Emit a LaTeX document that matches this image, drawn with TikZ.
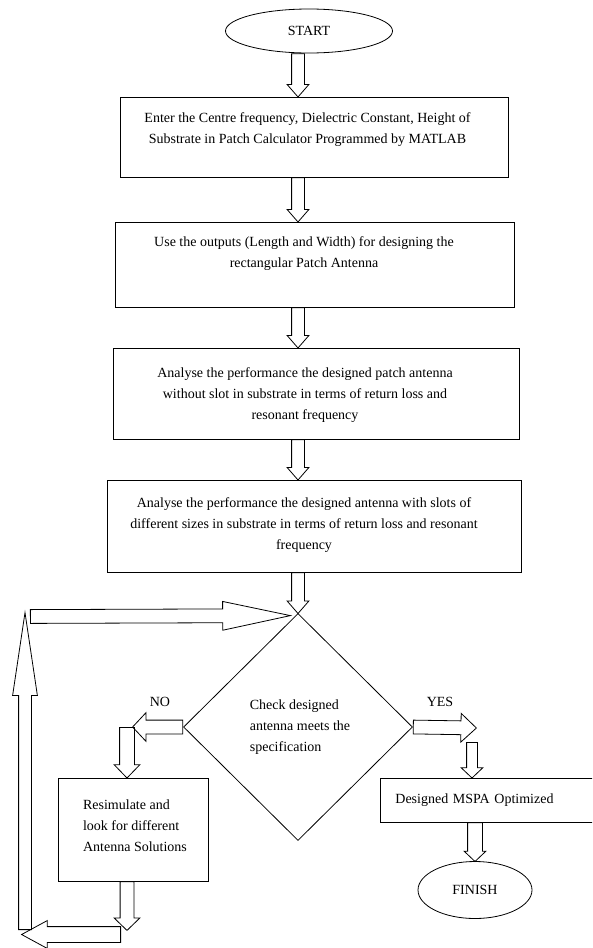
\documentclass[tikz,border=0pt]{standalone}
\usepackage{fontspec}
\setmainfont{Liberation Serif}
\usetikzlibrary{shapes.geometric,shapes.arrows,calc}

\newcommand\hollowarrow[3][]{%
  \path let \p1=(#2), \p2=(#3), \n1={veclen(\x2-\x1,\y2-\y1)}, \n2={atan2(\y2-\y1,\x2-\x1)} in
    node[hollow, minimum height=\n1, rotate=\n2, #1] at (#2) {};}

\begin{document}
\begin{tikzpicture}[x=1pt, y=-1pt, line width=0.8pt,
  font=\fontsize{14pt}{21pt}\selectfont,
  terminal/.style={draw, ellipse, inner sep=0pt},
  stepbox/.style={draw, rectangle, inner sep=0pt},
  decision/.style={draw, diamond, inner sep=0pt},
  boxtext/.style={align=center},
  hollow/.style={single arrow, draw, inner xsep=0pt, inner ysep=6pt, anchor=tail,
    single arrow head extend=4.5pt, single arrow tip angle=82}]
\clip (0,0) rectangle (592,948);
\coordinate (axis) at (298,0);

\node[terminal, minimum width=167, minimum height=44] (start) at (309,31) {START};
\node[stepbox, minimum width=388, minimum height=80,
  label={[boxtext, xshift=-6.5pt, yshift=7pt]center:{Enter the Centre frequency, Dielectric Constant, Height of\\Substrate in Patch Calculator Programmed by MATLAB}}] (enter) at (314,137) {};
\node[stepbox, minimum width=399, minimum height=85,
  label={[boxtext, xshift=-10.5pt, yshift=10.5pt]center:{Use the outputs (Length and Width) for designing the\\rectangular Patch Antenna}}] (use) at (314.5,264.5) {};
\node[stepbox, minimum width=406, minimum height=91,
  label={[boxtext, xshift=-11pt, yshift=-1.5pt]center:{Analyse the performance the designed patch antenna\\without slot in substrate in terms of return loss and\\resonant frequency}}] (analyse) at (316,393.5) {};
\node[stepbox, minimum width=414, minimum height=92,
  label={[boxtext, xshift=-10pt, yshift=1pt]center:{Analyse the performance the designed antenna with slots of\\different sizes in substrate in terms of return loss and resonant\\frequency}}] (slots) at (314,526) {};
\node[decision, minimum width=229, minimum height=227,
  label={[align=left, xshift=2pt]center:{Check designed\\antenna meets the\\specification}}] (check) at (298,727) {};
\node (no) at (160,702) {NO};
\node (yes) at (440,702) {YES};
\node[stepbox, minimum width=150, minimum height=103,
  label={[align=left, xshift=2pt, yshift=3.5pt]center:{Resimulate and\\look for different\\Antenna Solutions}}] (resim) at (133,829.5) {};
\node[stepbox, anchor=west, minimum height=44, text width=215, inner xsep=15pt, align=left] (mspa) at (380,800) {Designed MSPA Optimized};
\node[terminal, minimum width=114, minimum height=57] (finish) at (475,890) {FINISH};

\coordinate (notip) at (133,727);
\coordinate (nodown) at (127,727);
\coordinate (loopturn) at (127,930);
\coordinate (loopbot) at (121,934.5);
\coordinate (loopleft) at (22,934.5);
\coordinate (loopup) at (25,930);
\coordinate (looptip) at (25,613);
\coordinate (looptop) at (30,616.5);
\coordinate (yestip) at (476,728);
\coordinate (yesdown) at (472,742);

\hollowarrow{start.south -| axis}{enter.north -| axis}
\hollowarrow{enter.south -| axis}{use.north -| axis}
\hollowarrow{use.south -| axis}{analyse.north -| axis}
\hollowarrow{analyse.south -| axis}{slots.north -| axis}
\hollowarrow{slots.south -| axis}{check.north}

\hollowarrow[inner ysep=6.5pt, single arrow head extend=7.5pt, single arrow tip angle=94]{check.west}{notip}
\hollowarrow[inner ysep=7pt, single arrow head extend=5.5pt, single arrow tip angle=88]{nodown}{resim.north -| nodown}
\hollowarrow[inner ysep=6.5pt, single arrow head extend=6pt, single arrow tip angle=92]{resim.south -| nodown}{loopturn}
\hollowarrow[inner ysep=7.5pt, single arrow head extend=6pt, single arrow tip angle=57]{loopbot}{loopleft}
\hollowarrow[inner ysep=6pt, single arrow head extend=6pt, single arrow tip angle=17]{loopup}{looptip}
\hollowarrow[inner ysep=6.5pt, single arrow head extend=7.5pt, single arrow tip angle=24]{looptop}{$(check.north)+(-8,2.5)$}

\hollowarrow[inner ysep=6.5pt, single arrow head extend=7.5pt, single arrow tip angle=86]{check.east}{yestip}
\hollowarrow[inner ysep=5pt, single arrow head extend=5.5pt, single arrow tip angle=93]{yesdown}{mspa.north -| yesdown}
\hollowarrow[inner ysep=7pt, single arrow head extend=3.5pt, single arrow tip angle=93]{mspa.south -| finish}{finish.north}
\end{tikzpicture}
\end{document}
